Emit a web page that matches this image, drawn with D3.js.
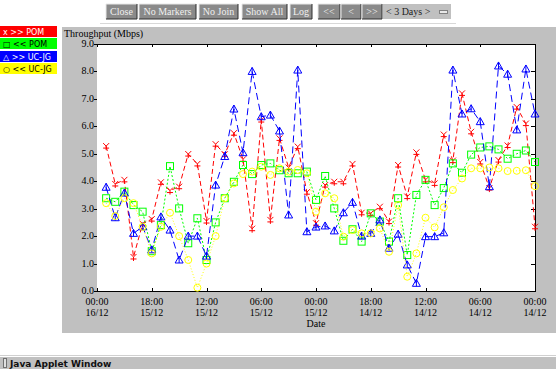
<html lang="en">
<head>
  <script src="https://d3js.org/d3.v7.min.js"></script>
  <style>
    body { margin: 0; background: white; }
    svg { display: block; }
  </style>
</head>
<body>
  <svg id="chart" width="556" height="369"></svg>
  <script>
    // hourly samples, 15/12 23:00 back to 14/12 00:00
    const times = d3.timeHour.range(new Date(2002, 11, 14, 0), new Date(2002, 11, 16, 0)).reverse();

    const redValues = [5.28, 3.9, 4.05, 1.24, 2.45, 2.62, 3.96, 3.66, 3.8, 4.99, 4.63, 2.55,
      5.35, 4.98, 5.75, 4.8, 2.27, 6.23, 2.59, 5.56, 4.5, 5.26, 3.6, 2.47,
      3.86, 3.98, 3.98, 4.63, 2.85, 2.83, 3.07, 2.53, 4.59, 3.44, 5.05, 4.05,
      3.92, 5.7, 4.75, 7.2, 5.8, 4.7, 3.75, 4.77, 5.3, 6.7, 6.1, 2.34];
    const greenValues = [3.38, 3.25, 3.62, 3.13, 2.89, 1.45, 2.4, 4.55, 3.01, 1.74, 2.65, 1.13,
      2.5, 3.38, 3.98, 4.59, 4.26, 4.59, 4.65, 4.4, 4.29, 4.29, 4.35, 3.32,
      4.19, 3.01, 1.83, 2.25, 1.8, 2.83, 2.53, 1.8, 3.38, 1.31, 3.5, 4.05,
      3.13, 3.75, 4.65, 4.31, 4.97, 5.23, 5.27, 5.16, 4.82, 5.0, 5.12, 4.7];
    const blueValues = [3.78, 2.67, 3.57, 2.1, 2.34, 1.5, 2.7, 2.22, 1.13, 2.0, 2.0, 1.27,
      3.86, 4.9, 6.63, 5.04, 8.0, 6.35, 6.41, 5.83, 2.77, 8.05, 2.16, 2.33,
      2.37, 2.19, 2.85, 3.23, 2.0, 2.1, 2.59, 1.56, 2.07, 0.95, 0.28, 1.98,
      1.98, 2.12, 8.05, 6.45, 6.64, 6.17, 3.8, 8.2, 7.9, 5.87, 8.09, 6.45];
    const yellowValues = [3.2, 2.73, 3.38, 3.2, 2.34, 1.37, 2.34, 2.85, 2.0, 1.13, 0.12, 1.0,
      2.0, 3.38, 3.92, 4.26, 4.35, 4.53, 4.23, 4.47, 4.35, 4.41, 4.29, 2.89,
      3.56, 3.38, 1.98, 2.22, 2.1, 2.1, 2.28, 1.43, 3.13, 0.52, 1.37, 2.67,
      2.32, 3.05, 3.68, 4.1, 4.47, 4.47, 4.5, 4.47, 4.37, 4.38, 4.4, 3.82];

    const seriesNames = ["x >> POM", "\u25a1 << POM", "\u25b3 >> UC-JG", "\u25cb << UC-JG"];
    const buttonLabels = ["Close", "No Markers", "No Join", "Show All", "Log", "<<", "<", ">>"];
    const yTicks = [0, 1, 2, 3, 4, 5, 6, 7, 8, 9];

    const svg = d3.select("#chart");
    const grey = "#c0c0c0";
    const plot = { left: 97, right: 535, top: 44, bottom: 291 };

    // --- top button bar ---
    const btnX = [106, 139, 199, 242, 290, 318, 341, 362];
    const btnW = [31, 57, 39, 45, 22, 22, 20, 20];
    const btns = svg.append("g");
    buttonLabels.forEach((lab, i) => {
      const g = btns.append("g").attr("transform", `translate(${btnX[i]},4)`);
      g.append("rect").attr("width", btnW[i]).attr("height", 15).attr("fill", "#8a8a8a");
      g.append("path").attr("d", `M0,15V0H${btnW[i]}`).attr("stroke", "#e8e8e8").attr("fill", "none");
      g.append("path").attr("d", `M0,15H${btnW[i]}V0`).attr("stroke", "#303030").attr("fill", "none");
      g.append("text").attr("x", btnW[i] / 2).attr("y", 11).attr("text-anchor", "middle")
        .attr("font-family", "Liberation Serif").attr("font-size", 10).attr("fill", "#f0f0f0").text(lab);
    });
    btns.append("rect").attr("x", 383).attr("y", 4).attr("width", 68).attr("height", 15).attr("fill", grey);
    btns.append("text").attr("x", 386).attr("y", 15).attr("font-family", "Liberation Serif")
      .attr("font-size", 10).attr("fill", "#222").text("< 3 Days >");
    btns.append("rect").attr("x", 439.5).attr("y", 10.5).attr("width", 8).attr("height", 3)
      .attr("fill", "#e8e8e8").attr("stroke", "#808080");
    svg.append("line").attr("x1", 100).attr("x2", 456).attr("y1", 23.5).attr("y2", 23.5).attr("stroke", "#d8d8d8");

    // --- legend ---
    const legendFill = ["#ff0000", "#00ff00", "#0000ff", "#ffff00"];
    const legendText = ["white", "black", "white", "black"];
    const legendY = [26, 38, 51, 63];
    seriesNames.forEach((name, i) => {
      svg.append("rect").attr("x", 0).attr("y", legendY[i]).attr("width", 57).attr("height", 11).attr("fill", legendFill[i]);
      svg.append("text").attr("x", 3).attr("y", legendY[i] + 9).attr("font-family", "DejaVu Sans")
        .attr("font-size", 8).attr("fill", legendText[i]).text(name);
    });

    // --- chart panel ---
    svg.append("rect").attr("x", 62).attr("y", 27).attr("width", 494).attr("height", 306).attr("fill", grey);
    svg.append("rect").attr("x", plot.left).attr("y", plot.top)
      .attr("width", plot.right - plot.left).attr("height", plot.bottom - plot.top).attr("fill", "white");
    svg.append("text").attr("x", 64).attr("y", 37).attr("font-family", "Liberation Serif")
      .attr("font-size", 10).text("Throughput (Mbps)");

    const x = d3.scaleTime()
      .domain([new Date(2002, 11, 16, 0), new Date(2002, 11, 14, 0)])
      .range([plot.left, plot.right]);
    const y = d3.scaleLinear().domain([0, 9]).range([plot.bottom, plot.top]);
    const xTicks = d3.timeHour.every(6).range(new Date(2002, 11, 14, 0), new Date(2002, 11, 16, 1)).reverse();

    const axes = svg.append("g").attr("stroke", "black").attr("shape-rendering", "crispEdges");
    axes.append("line").attr("x1", plot.left).attr("x2", plot.right).attr("y1", plot.top + 0.5).attr("y2", plot.top + 0.5);
    axes.append("line").attr("x1", plot.left).attr("x2", plot.right + 1).attr("y1", plot.bottom + 0.5).attr("y2", plot.bottom + 0.5);
    axes.append("line").attr("x1", plot.right + 0.5).attr("x2", plot.right + 0.5).attr("y1", plot.top).attr("y2", plot.bottom);

    xTicks.forEach(t => {
      const px = Math.round(x(t)) + 0.5;
      axes.append("line").attr("x1", px).attr("x2", px).attr("y1", plot.top).attr("y2", plot.top + 3);
      axes.append("line").attr("x1", px).attr("x2", px).attr("y1", plot.bottom).attr("y2", plot.bottom - 3);
    });
    yTicks.forEach(v => {
      const py = Math.round(y(v)) + 0.5;
      axes.append("line").attr("x1", plot.left - 3).attr("x2", plot.left).attr("y1", py).attr("y2", py);
      axes.append("line").attr("x1", plot.right).attr("x2", plot.right - 4).attr("y1", py).attr("y2", py);
    });

    const labels = svg.append("g").attr("font-family", "Liberation Serif").attr("font-size", 10).attr("fill", "black");
    yTicks.forEach(v => {
      labels.append("text").attr("x", plot.left - 3).attr("y", y(v) + 3)
        .attr("text-anchor", "end").text(d3.format(".1f")(v));
    });
    const fmtTime = d3.timeFormat("%H:%M"), fmtDay = d3.timeFormat("%d/%m");
    xTicks.forEach(t => {
      labels.append("text").attr("x", x(t)).attr("y", 305).attr("text-anchor", "middle").text(fmtTime(t));
      labels.append("text").attr("x", x(t)).attr("y", 316).attr("text-anchor", "middle").text(fmtDay(t));
    });
    labels.append("text").attr("x", (plot.left + plot.right) / 2).attr("y", 327).attr("text-anchor", "middle").text("Date");

    // --- series ---
    const series = [
      { values: redValues, color: "#ff0000", dash: "5,3", marker: "star" },
      { values: greenValues, color: "#00ff00", dash: "2,2", marker: "square" },
      { values: blueValues, color: "#0000ff", dash: "7,4", marker: "triangle" },
      { values: yellowValues, color: "#ffff00", dash: "1,2", marker: "circle" }
    ];
    const line = d3.line().x(d => x(d[0])).y(d => y(d[1]));
    const marks = svg.append("g");

    series.forEach(s => {
      const pts = times.map((t, i) => [t, s.values[i]]);
      marks.append("path").datum(pts).attr("d", line).attr("fill", "none")
        .attr("stroke", s.color).attr("stroke-width", 1).attr("stroke-dasharray", s.dash);
      const g = marks.append("g").attr("stroke", s.color).attr("fill", "none");
      pts.forEach(d => {
        const cx = x(d[0]), cy = y(d[1]);
        if (s.marker === "circle") {
          g.append("circle").attr("cx", cx).attr("cy", cy).attr("r", 3.5);
        } else if (s.marker === "square") {
          g.append("rect").attr("x", cx - 3.5).attr("y", cy - 3.5).attr("width", 7).attr("height", 7);
        } else if (s.marker === "triangle") {
          g.append("path").attr("d", `M${cx},${cy - 4}L${cx + 4},${cy + 3}H${cx - 4}Z M${cx},${cy - 4}V${cy + 3}`);
        } else {
          g.append("path").attr("d", `M${cx - 3},${cy - 3}L${cx},${cy}L${cx + 3},${cy - 3} M${cx},${cy}V${cy + 4} M${cx - 3},${cy + 2}H${cx + 3}`);
        }
      });
    });

    // --- bottom status bar ---
    svg.append("line").attr("x1", 0).attr("x2", 556).attr("y1", 355.5).attr("y2", 355.5).attr("stroke", "#d0d0d0");
    svg.append("rect").attr("x", 0).attr("y", 357).attr("width", 556).attr("height", 12).attr("fill", grey);
    svg.append("rect").attr("x", 3.5).attr("y", 358.5).attr("width", 3).attr("height", 9)
      .attr("fill", "#e0e0e0").attr("stroke", "#707070");
    svg.append("text").attr("x", 10).attr("y", 366.5).attr("font-family", "DejaVu Sans")
      .attr("font-size", 9).attr("font-weight", "bold").attr("fill", "#111").text("Java Applet Window");
  </script>
</body>
</html>
